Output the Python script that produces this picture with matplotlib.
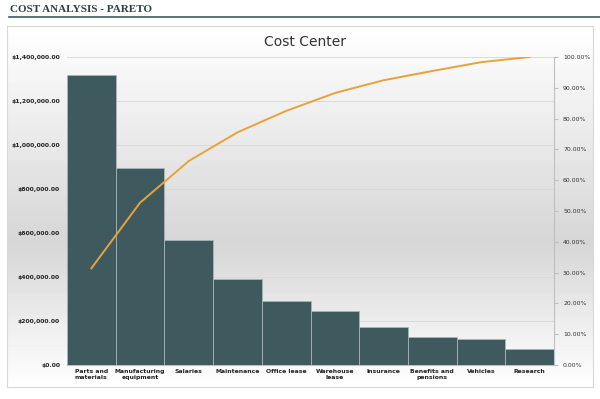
import numpy as np
import matplotlib
matplotlib.use("Agg")
import matplotlib.pyplot as plt
from matplotlib.ticker import FuncFormatter

categories = ["Parts and\nmaterials", "Manufacturing\nequipment", "Salaries", "Maintenance",
              "Office lease", "Warehouse\nlease", "Insurance", "Benefits and\npensions",
              "Vehicles", "Research"]
costs = [1318000, 894000, 568000, 391000, 292000, 244000, 174000, 126000, 120000, 71000]

BAR = "#3e5a5f"
LINE = "#e8a23a"

cum_pct = np.cumsum(costs) / np.sum(costs) * 100

fig = plt.figure(figsize=(6, 3.99), dpi=100)

# header
fig.text(0.017, 0.988, "COST ANALYSIS - PARETO", family="Liberation Serif",
         fontweight="bold", fontsize=8, color="#2f3f44", va="top")
fig.add_artist(plt.Line2D([0.015, 1.0], [0.957, 0.957], color="#3e5a5f", lw=1.2))

# panel with vertical gradient
bg = fig.add_axes([0.012, 0.03, 0.976, 0.905])
grad = np.concatenate([np.linspace(1.0, 0.84, 60), np.linspace(0.84, 1.0, 40)])
bg.imshow(grad[:, None], cmap="gray", vmin=0, vmax=1, aspect="auto",
          extent=[0, 1, 0, 1])
bg.set_xticks([]); bg.set_yticks([])
for s in bg.spines.values():
    s.set_color("#d8d8d8"); s.set_linewidth(0.8)

fig.text(0.508, 0.895, "Cost Center", ha="center", va="center",
         fontsize=10, color="#333333")

ax = fig.add_axes([0.1117, 0.0852, 0.8117, 0.772])
ax.patch.set_alpha(0)
x = np.arange(len(categories))
ax.bar(x, costs, width=1.0, color=BAR, edgecolor="#a9b4b6", lw=0.6, zorder=3)
ax.set_xlim(-0.5, len(categories) - 0.5)
ax.set_ylim(0, 1400000)
ax.set_yticks(np.arange(0, 1400001, 200000))
ax.yaxis.set_major_formatter(FuncFormatter(lambda v, p: f"${v:,.2f}"))
ax.set_xticks(x)
ax.set_xticklabels(categories, fontsize=4.4, fontweight="bold", color="#222222",
                   linespacing=1.1)
ax.tick_params(axis="y", labelsize=4.4, length=0, pad=5, labelcolor="#222222")
ax.tick_params(axis="x", length=0, pad=3)
for lab in ax.get_yticklabels():
    lab.set_fontweight("bold")
ax.grid(True, axis="y", color="#d9d9d9", lw=0.7, zorder=0)
for s in ["top", "right", "left"]:
    ax.spines[s].set_visible(False)
ax.spines["bottom"].set_color("#bfbfbf")

ax2 = ax.twinx()
ax2.plot(x, cum_pct, color=LINE, lw=1.4, zorder=4)
ax2.set_ylim(0, 100)
ax2.set_yticks(np.arange(0, 101, 10))
ax2.yaxis.set_major_formatter(FuncFormatter(lambda v, p: f"{v:.2f}%"))
ax2.tick_params(axis="y", labelsize=4.4, length=3, color="#bfbfbf", labelcolor="#333333")
for s in ["top", "left", "bottom"]:
    ax2.spines[s].set_visible(False)
ax2.spines["right"].set_color("#bfbfbf")

fig.savefig("out.png", dpi=100)
